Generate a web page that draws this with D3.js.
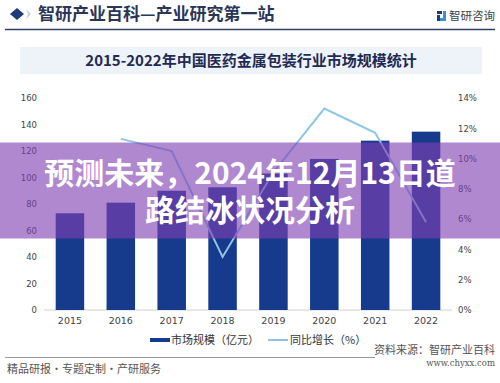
<!DOCTYPE html>
<html><head><meta charset="utf-8">
<script src="https://cdn.jsdelivr.net/npm/d3@7"></script>
<style>
html,body{margin:0;padding:0;background:#fff;}
svg{display:block;font-family:"Noto Sans CJK SC","Noto Sans",sans-serif;}
</style></head>
<body>
<script>
const years = ["2015","2016","2017","2018","2019","2020","2021","2022"];
const marketSize = [73, 81, 90, 92.6, 103, 114, 127.8, 134.6];
const growthRate = [null, 11.3, 10.5, 3.5, 9.1, 13.3, 11.7, 5.8];
const leftTicks = [0,20,40,60,80,100,120,140,160];
const rightTicks = [0,2,4,6,8,10,12,14];

const W = 500, H = 383;
const svg = d3.select("body").append("svg").attr("width", W).attr("height", H);

// header
svg.append("path").attr("d","M17,8 L24,14 L17,20 L10,14 Z").attr("fill","#1f3a7a");
svg.append("path").attr("d","M26,9 L31,14 L26,19 L28,14 Z").attr("fill","#c9cfdc");
svg.append("text").attr("x",38).attr("y",20).attr("font-size",17).attr("font-weight",700)
  .attr("fill","#2a3558").text("智研产业百科—产业研究第一站");
// logo
const lg = svg.append("g").attr("transform","translate(437,11)");
lg.append("rect").attr("x",0).attr("y",0).attr("width",5).attr("height",3).attr("fill","#1f3a7a");
lg.append("rect").attr("x",0).attr("y",4).attr("width",3).attr("height",6).attr("fill","#1f3a7a");
lg.append("rect").attr("x",6).attr("y",0).attr("width",3).attr("height",10).attr("fill","#3f8fd0");
lg.append("rect").attr("x",3).attr("y",7).attr("width",3).attr("height",3).attr("fill","#3f8fd0");
svg.append("text").attr("x",449).attr("y",20).attr("font-size",11.5).attr("fill","#3a3f4a").text("智研咨询");
svg.append("line").attr("x1",5).attr("x2",495).attr("y1",29.5).attr("y2",29.5)
  .attr("stroke","#2f3d68").attr("stroke-width",1.5);

// subtitle box
svg.append("rect").attr("x",20).attr("y",47).attr("width",462).attr("height",27).attr("fill","#eef2f9");
svg.append("text").attr("x",251).attr("y",66).attr("text-anchor","middle").attr("font-size",15)
  .attr("font-weight",700).attr("fill","#1e2b52").text("2015-2022年中国医药金属包装行业市场规模统计");

// chart
const x = d3.scaleBand().domain(years).range([44.5, 451.5]).paddingInner(0.44).paddingOuter(0.22);
const yL = d3.scaleLinear().domain([0,160]).range([310, 98]);
const yR = d3.scaleLinear().domain([0,14]).range([310, 98]);

svg.append("line").attr("x1",44).attr("x2",452).attr("y1",310).attr("y2",310)
  .attr("stroke","#d0d0d0").attr("stroke-width",1);

svg.append("g").selectAll("rect").data(years).join("rect")
  .attr("x", d => x(d)).attr("width", x.bandwidth())
  .attr("y", (d,i) => yL(marketSize[i])).attr("height", (d,i) => 310 - yL(marketSize[i]))
  .attr("fill","#163a8c");

const pts = years.map((d,i)=>({d, v: growthRate[i]})).filter(p => p.v !== null);
const line = d3.line().x(p => x(p.d) + x.bandwidth()/2).y(p => yR(p.v));
svg.append("path").datum(pts).attr("d", line).attr("fill","none")
  .attr("stroke","#8cc6e4").attr("stroke-width",2);

// axes
const axL = svg.append("g").attr("transform","translate(40,0)")
  .call(d3.axisLeft(yL).tickValues(leftTicks).tickSize(0).tickPadding(3));
const axR = svg.append("g").attr("transform","translate(455,0)")
  .call(d3.axisRight(yR).tickValues(rightTicks).tickSize(0).tickPadding(3).tickFormat(d => d + "%"));
const axB = svg.append("g").attr("transform","translate(0,310)")
  .call(d3.axisBottom(x).tickSize(0).tickPadding(7));
[axL, axR, axB].forEach(a => { a.select(".domain").remove();
  a.selectAll("text").attr("fill","#444").attr("font-family","'DejaVu Sans',sans-serif"); });
axL.selectAll("text").attr("font-size",8.5);
axR.selectAll("text").attr("font-size",8.5);
axB.selectAll("text").attr("font-size",9.5);

// legend
svg.append("rect").attr("x",150).attr("y",338).attr("width",20).attr("height",4).attr("fill","#163a8c");
svg.append("text").attr("x",171).attr("y",344).attr("font-size",11).attr("fill","#333").text("市场规模（亿元）");
svg.append("line").attr("x1",268).attr("x2",288).attr("y1",340).attr("y2",340).attr("stroke","#8cc6e4").attr("stroke-width",2);
svg.append("text").attr("x",290).attr("y",344).attr("font-size",11).attr("fill","#333").text("同比增长（%）");

// footer
svg.append("line").attr("x1",5).attr("x2",375).attr("y1",357.5).attr("y2",357.5).attr("stroke","#9a9a9a").attr("stroke-width",1);
svg.append("text").attr("x",7).attr("y",373).attr("font-size",11).attr("fill","#555").text("精品研报・专题定制・产研服务");
svg.append("text").attr("x",495).attr("y",354).attr("text-anchor","end").attr("font-size",11).attr("fill","#555").text("资料来源：智研产业百科");
svg.append("text").attr("x",495).attr("y",366).attr("text-anchor","end").attr("font-size",8.5)
  .attr("font-family","'DejaVu Serif',serif").attr("fill","#555").text("www.chyxx.com");

// overlay banner
svg.append("rect").attr("x",0).attr("y",142.5).attr("width",W).attr("height",96)
  .attr("fill","rgb(128,63,179)").attr("fill-opacity",0.62);
const bt = svg.append("text").attr("text-anchor","middle").attr("font-size",30)
  .attr("font-weight",700).attr("fill","#fff");
bt.append("tspan").attr("x",250).attr("y",184).text("预测未来，2024年12月13日道");
bt.append("tspan").attr("x",250).attr("y",221).text("路结冰状况分析");
</script>
</body></html>
